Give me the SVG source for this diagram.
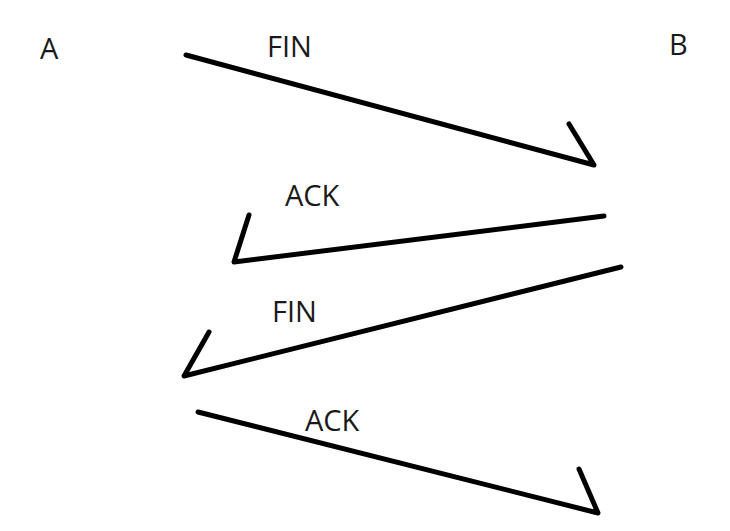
<svg xmlns="http://www.w3.org/2000/svg" width="730" height="531" viewBox="0 0 730 531">
<style>
.lbl{font-family:"Open Sans","Noto Sans","Liberation Sans",sans-serif;font-size:29px;fill:#1a1a1a}
.ln{fill:none;stroke:#000;stroke-width:5;stroke-linecap:round;stroke-linejoin:round}
</style>
<rect width="730" height="531" fill="#fff"/>
<g id="nodeA"><text class="lbl" x="40" y="59">A</text></g>
<g id="nodeB"><text class="lbl" x="669" y="55">B</text></g>
<g id="connectors">
<g id="fin1"><polyline class="ln" points="186,55 594,165 569,124"/><text class="lbl" x="267" y="57">FIN</text></g>
<g id="ack1"><polyline class="ln" points="604,216 234,262 249,215"/><text class="lbl" x="285" y="206">ACK</text></g>
<g id="fin2"><polyline class="ln" points="621,267 184,376 209,332"/><text class="lbl" x="272" y="322">FIN</text></g>
<g id="ack2"><polyline class="ln" points="198,412 598,513 579,469"/><text class="lbl" x="305" y="431">ACK</text></g>
</g>
</svg>
